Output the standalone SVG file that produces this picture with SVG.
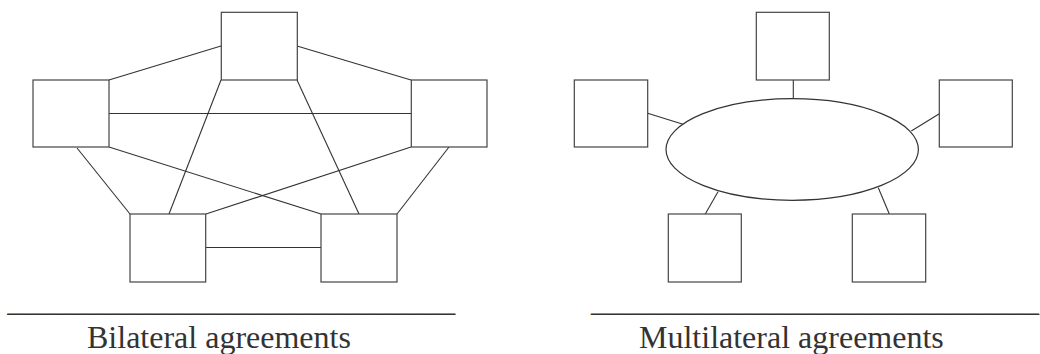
<svg xmlns="http://www.w3.org/2000/svg" width="1040" height="354" viewBox="0 0 1040 354">
<style>
.box{fill:#fff;stroke:#444;stroke-width:1.2}
.ln{stroke:#333;stroke-width:1.1;fill:none}
.ell{fill:#fff;stroke:#333;stroke-width:1.2}
.t{font-family:"Liberation Serif","Times New Roman",serif;font-size:32px;fill:#333}
</style>
<rect width="1040" height="354" fill="#fff"/>
<g id="connectors">
<line class="ln" x1="109" y1="80" x2="221" y2="46"/>
<line class="ln" x1="297" y1="46" x2="411" y2="80"/>
<line class="ln" x1="109" y1="113.5" x2="411" y2="113.5"/>
<line class="ln" x1="221" y1="80" x2="169" y2="214"/>
<line class="ln" x1="297" y1="80" x2="359" y2="214"/>
<line class="ln" x1="109" y1="147" x2="321" y2="214"/>
<line class="ln" x1="411" y1="147" x2="206" y2="214"/>
<line class="ln" x1="77" y1="148" x2="130" y2="214"/>
<line class="ln" x1="449" y1="147" x2="397" y2="214"/>
<line class="ln" x1="206" y1="247.5" x2="321" y2="247.5"/>
<line class="ln" x1="793.3" y1="80" x2="793.3" y2="99"/>
<line class="ln" x1="647.7" y1="113.3" x2="683" y2="124.3"/>
<line class="ln" x1="939.3" y1="113.7" x2="911.3" y2="131"/>
<line class="ln" x1="705.3" y1="214" x2="718" y2="191.7"/>
<line class="ln" x1="889.3" y1="214" x2="878.3" y2="187.7"/>
</g>
<g id="b-top"><rect class="box" x="221.3" y="12.3" width="76" height="67.7"/></g>
<g id="b-left"><rect class="box" x="33" y="80" width="76" height="67"/></g>
<g id="b-right"><rect class="box" x="411.3" y="80" width="75.7" height="67"/></g>
<g id="b-botleft"><rect class="box" x="130" y="214" width="75.7" height="68"/></g>
<g id="b-botright"><rect class="box" x="321" y="214" width="76" height="68"/></g>
<g id="m-hub"><ellipse class="ell" cx="792.2" cy="149.5" rx="126.2" ry="50.8"/></g>
<g id="m-top"><rect class="box" x="756.3" y="12.3" width="73" height="67.7"/></g>
<g id="m-left"><rect class="box" x="574.3" y="80" width="73.4" height="67"/></g>
<g id="m-right"><rect class="box" x="939.3" y="80" width="73" height="67"/></g>
<g id="m-botleft"><rect class="box" x="668.3" y="214" width="73" height="68"/></g>
<g id="m-botright"><rect class="box" x="852.3" y="214" width="73.4" height="68"/></g>
<g id="captions">
<text class="t" x="7.3" y="310.5">____________________________</text>
<text class="t" x="87" y="348">Bilateral agreements</text>
<text class="t" x="591" y="310.5">____________________________</text>
<text class="t" x="639" y="348">Multilateral agreements</text>
</g>
</svg>
